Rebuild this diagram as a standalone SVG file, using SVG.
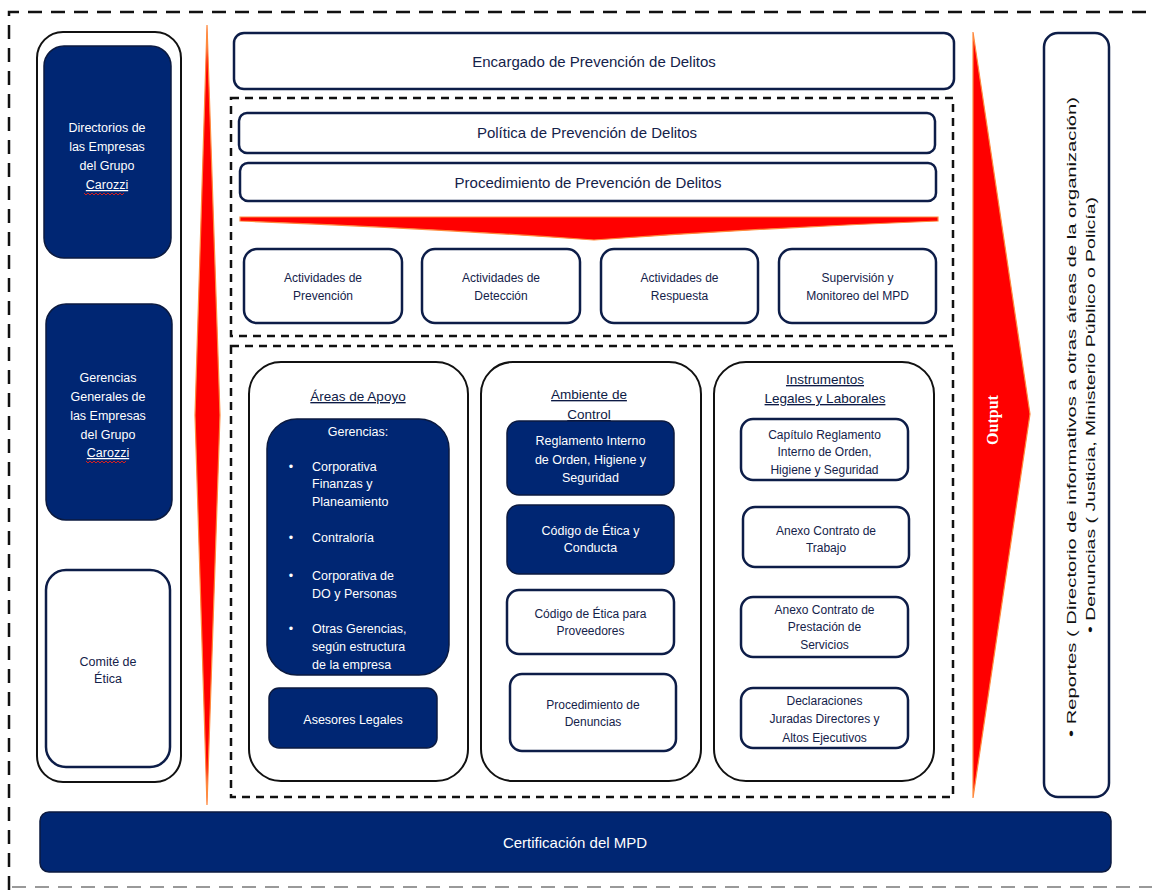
<svg xmlns="http://www.w3.org/2000/svg" width="1152" height="890" viewBox="0 0 1152 890">
<defs>
<style>
.navy{fill:#002673;stroke:#0b1a40;stroke-width:1.5}
.wbox{fill:#fff;stroke:#0d1d48;stroke-width:2.5}
.cont{fill:#fff;stroke:#111;stroke-width:2}
.dash{fill:none;stroke:#111;stroke-width:2.5;stroke-dasharray:8 6}
.red{fill:#ff0000;stroke:#ff8a3d;stroke-width:1.2}
text{font-family:"Liberation Sans",Arial,sans-serif;text-anchor:middle}
.t{font-size:12px;fill:#14224a}
.tw{font-size:12.5px;fill:#fff}
.th{font-size:15px;fill:#14224a}
.ttl{font-size:13.5px;fill:#0d1a45;text-decoration:underline}
.tl{text-anchor:start}
.wave{fill:none;stroke:#d42020;stroke-width:1}
</style>
</defs>

<g id="frame">
<path d="M9,890 L9,12 L1152,12" fill="none" stroke="#111" stroke-width="2.5" stroke-dasharray="14 9"/>
<line x1="12" y1="887" x2="1152" y2="887" stroke="#999" stroke-width="2" stroke-dasharray="14 9"/>
<rect class="dash" x="231" y="98" width="722" height="238"/>
<rect class="dash" x="231" y="346" width="722" height="451"/>
</g>

<g id="connectors">
<polygon class="red" points="207,25 220,415 207,805 195,415"/>
<path class="red" d="M240,217 L938,217 L938,221 Q760,228 594,240 Q428,228 240,221 Z"/>
<polygon class="red" points="973,32 1030,414 973,798"/>
<text transform="translate(998,420) rotate(-90)" style="font-family:'Liberation Serif','Times New Roman',serif;font-size:16px;font-weight:bold;fill:#fff">Output</text>
</g>

<g id="left-column">
<rect class="cont" x="37" y="32" width="144" height="750" rx="26"/>
</g>
<g id="directorios">
<rect class="navy" x="44" y="46" width="127" height="212" rx="20"/>
<text class="tw" x="107" y="132">Directorios de</text>
<text class="tw" x="107" y="151">las Empresas</text>
<text class="tw" x="107" y="170">del Grupo</text>
<text class="tw" x="107" y="189" style="text-decoration:underline">Carozzi</text>
<path class="wave" d="M84,193 l2,2 l2,-2 l2,2 l2,-2 l2,2 l2,-2 l2,2 l2,-2 l2,2 l2,-2 l2,2 l2,-2 l2,2 l2,-2 l2,2 l2,-2 l2,2 l2,-2 l2,2 l2,-2"/>
</g>
<g id="gerencias-generales">
<rect class="navy" x="46" y="304" width="126" height="216" rx="20"/>
<text class="tw" x="108" y="382">Gerencias</text>
<text class="tw" x="108" y="401">Generales de</text>
<text class="tw" x="108" y="420">las Empresas</text>
<text class="tw" x="108" y="439">del Grupo</text>
<text class="tw" x="108" y="457" style="text-decoration:underline">Carozzi</text>
<path class="wave" d="M86,461 l2,2 l2,-2 l2,2 l2,-2 l2,2 l2,-2 l2,2 l2,-2 l2,2 l2,-2 l2,2 l2,-2 l2,2 l2,-2 l2,2 l2,-2 l2,2 l2,-2 l2,2 l2,-2"/>
</g>
<g id="comite">
<rect class="wbox" x="46" y="570" width="124" height="197" rx="20"/>
<text class="t" x="108" y="666" style="font-size:12.5px">Comité de</text>
<text class="t" x="108" y="683" style="font-size:12.5px">Ética</text>
</g>

<g id="encargado">
<rect class="wbox" x="234" y="33" width="720" height="56" rx="10"/>
<text class="th" x="594" y="67">Encargado de Prevención de Delitos</text>
</g>
<g id="politica">
<rect class="wbox" x="239" y="113" width="696" height="40" rx="8"/>
<text class="th" x="587" y="138">Política de Prevención de Delitos</text>
</g>
<g id="procedimiento">
<rect class="wbox" x="240" y="163" width="696" height="38" rx="8"/>
<text class="th" x="588" y="188">Procedimiento de Prevención de Delitos</text>
</g>

<g id="act-prevencion">
<rect class="wbox" x="244" y="249" width="158" height="74" rx="13"/>
<text class="t" x="323" y="282">Actividades de</text>
<text class="t" x="323" y="300">Prevención</text>
</g>
<g id="act-deteccion">
<rect class="wbox" x="422" y="249" width="158" height="74" rx="13"/>
<text class="t" x="501" y="282">Actividades de</text>
<text class="t" x="501" y="300">Detección</text>
</g>
<g id="act-respuesta">
<rect class="wbox" x="601" y="249" width="157" height="74" rx="13"/>
<text class="t" x="679.5" y="282">Actividades de</text>
<text class="t" x="679.5" y="300">Respuesta</text>
</g>
<g id="supervision">
<rect class="wbox" x="779" y="249" width="157" height="74" rx="13"/>
<text class="t" x="857.5" y="282">Supervisión y</text>
<text class="t" x="857.5" y="300">Monitoreo del MPD</text>
</g>

<g id="areas-apoyo">
<rect class="cont" x="249" y="362" width="219" height="419" rx="32"/>
<text class="ttl" x="358" y="401">Áreas de Apoyo</text>
</g>
<g id="gerencias">
<rect class="navy" x="267" y="419" width="182" height="256" rx="30"/>
<text class="tw" x="358" y="436">Gerencias:</text>
<text class="tw" x="291" y="471">•</text>
<text class="tw tl" x="312" y="471">Corporativa</text>
<text class="tw tl" x="312" y="488">Finanzas y</text>
<text class="tw tl" x="312" y="506">Planeamiento</text>
<text class="tw" x="291" y="542">•</text>
<text class="tw tl" x="312" y="542">Contraloría</text>
<text class="tw" x="291" y="580">•</text>
<text class="tw tl" x="312" y="580">Corporativa de</text>
<text class="tw tl" x="312" y="598">DO y Personas</text>
<text class="tw" x="291" y="633">•</text>
<text class="tw tl" x="312" y="633">Otras Gerencias,</text>
<text class="tw tl" x="312" y="651">según estructura</text>
<text class="tw tl" x="312" y="669">de la empresa</text>
</g>
<g id="asesores">
<rect class="navy" x="269" y="688" width="168" height="60" rx="10"/>
<text class="tw" x="353" y="724">Asesores Legales</text>
</g>

<g id="ambiente-control">
<rect class="cont" x="481" y="362" width="220" height="419" rx="32"/>
<text class="ttl" x="589" y="399">Ambiente de</text>
<text class="ttl" x="589" y="419">Control</text>
</g>
<g id="reglamento">
<rect class="navy" x="507" y="421" width="167" height="74" rx="12"/>
<text class="tw" x="590.5" y="445">Reglamento Interno</text>
<text class="tw" x="590.5" y="464">de Orden, Higiene y</text>
<text class="tw" x="590.5" y="482">Seguridad</text>
</g>
<g id="codigo-etica">
<rect class="navy" x="507" y="505" width="167" height="69" rx="12"/>
<text class="tw" x="590.5" y="535">Código de Ética y</text>
<text class="tw" x="590.5" y="552">Conducta</text>
</g>
<g id="codigo-proveedores">
<rect class="wbox" x="507" y="590" width="167" height="64" rx="12"/>
<text class="t" x="590.5" y="618">Código de Ética para</text>
<text class="t" x="590.5" y="635">Proveedores</text>
</g>
<g id="proc-denuncias">
<rect class="wbox" x="510" y="674" width="166" height="77" rx="12"/>
<text class="t" x="593" y="709">Procedimiento de</text>
<text class="t" x="593" y="726">Denuncias</text>
</g>

<g id="instrumentos">
<rect class="cont" x="714" y="362" width="220" height="419" rx="32"/>
<text class="ttl" x="825" y="384">Instrumentos</text>
<text class="ttl" x="825" y="403">Legales y Laborales</text>
</g>
<g id="capitulo">
<rect class="wbox" x="741" y="419" width="167" height="61" rx="12"/>
<text class="t" x="824.5" y="439">Capítulo Reglamento</text>
<text class="t" x="824.5" y="456">Interno de Orden,</text>
<text class="t" x="824.5" y="474">Higiene y Seguridad</text>
</g>
<g id="anexo-trabajo">
<rect class="wbox" x="743" y="507" width="166" height="60" rx="12"/>
<text class="t" x="826" y="535">Anexo Contrato de</text>
<text class="t" x="826" y="552">Trabajo</text>
</g>
<g id="anexo-servicios">
<rect class="wbox" x="741" y="597" width="167" height="60" rx="12"/>
<text class="t" x="824.5" y="614">Anexo Contrato de</text>
<text class="t" x="824.5" y="631">Prestación de</text>
<text class="t" x="824.5" y="649">Servicios</text>
</g>
<g id="declaraciones">
<rect class="wbox" x="741" y="688" width="167" height="60" rx="12"/>
<text class="t" x="824.5" y="705">Declaraciones</text>
<text class="t" x="824.5" y="723">Juradas Directores y</text>
<text class="t" x="824.5" y="742">Altos Ejecutivos</text>
</g>

<g id="reportes">
<rect class="wbox" x="1044" y="33" width="65" height="764" rx="14"/>
<text transform="translate(1076,417) rotate(-90)" style="font-size:13.5px;fill:#111" textLength="640" lengthAdjust="spacingAndGlyphs">• Reportes ( Directorio de informativos a otras áreas de la organización)</text>
<text transform="translate(1095,415) rotate(-90)" style="font-size:13.5px;fill:#111" textLength="436" lengthAdjust="spacingAndGlyphs">• Denuncias ( Justicia, Ministerio Público o Policía)</text>
</g>

<g id="certificacion">
<rect class="navy" x="40" y="812" width="1071" height="60" rx="9"/>
<text class="tw" x="575" y="848" style="font-size:15px">Certificación del MPD</text>
</g>
</svg>
